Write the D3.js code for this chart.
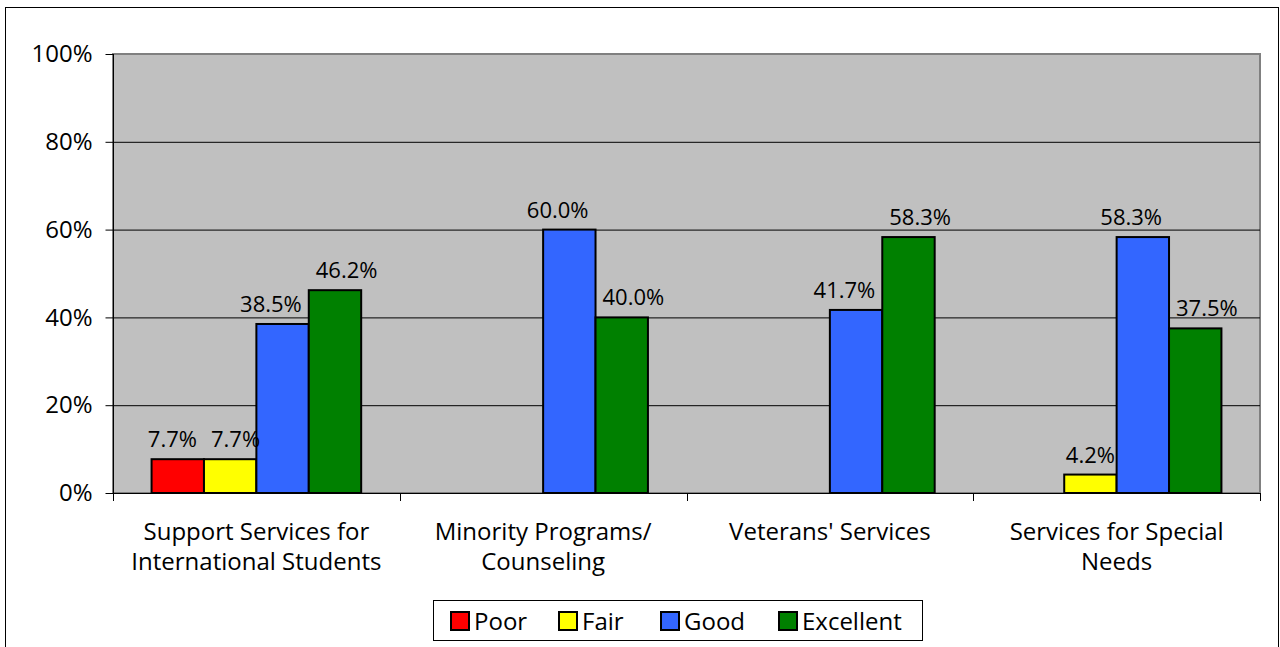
<!DOCTYPE html>
<meta charset="utf-8">
<head>
  <style>
    body { margin:0; background:#fff; }
    text { font-family: "Open Sans", "Noto Sans", sans-serif; fill:#000; }
  </style>
  <script src="https://d3js.org/d3.v7.min.js"></script>
</head>
<body>
<svg width="1280" height="647"></svg>
<script>
var categories = [
  ["Support Services for", "International Students"],
  ["Minority Programs/", "Counseling"],
  ["Veterans' Services"],
  ["Services for Special", "Needs"]
]
var seriesNames = ["Poor", "Fair", "Good", "Excellent"]
var seriesColors = ["#ff0000", "#ffff00", "#3366ff", "#008000"]
// percent per category, null = no bar
var poor      = [7.7, null, null, null]
var fair      = [7.7, null, null, 4.2]
var good      = [38.5, 60.0, 41.7, 58.3]
var excellent = [46.2, 40.0, 58.3, 37.5]
var yTicks = [0, 20, 40, 60, 80, 100]

var values = [poor, fair, good, excellent]

var svg = d3.select('svg')
var plotL = 113, plotR = 1260, plotT = 54, plotB = 493

// outer frame
svg.append('rect')
  .attr('x', 5.5).attr('y', 7.5).attr('width', 1273).attr('height', 660)
  .attr('fill', 'none').attr('stroke', '#000').attr('stroke-width', 1)

var x0 = d3.scaleBand().domain(d3.range(categories.length)).range([plotL, plotR])
var x1 = d3.scaleBand().domain(d3.range(seriesNames.length))
  .range([0, x0.bandwidth()]).paddingOuter(0.736)
var y = d3.scaleLinear().domain([0, 100]).range([plotB, plotT])

// plot area
svg.append('rect')
  .attr('x', plotL).attr('y', plotT).attr('width', plotR - plotL).attr('height', plotB - plotT)
  .attr('fill', '#c0c0c0').attr('stroke', '#808080').attr('stroke-width', 2)

// gridlines
svg.append('g').selectAll('line')
  .data(yTicks.filter(function (d) { return d > 0 && d < 100 }))
  .enter().append('line')
    .attr('x1', plotL).attr('x2', plotR)
    .attr('y1', function (d) { return y(d) + 0.5 })
    .attr('y2', function (d) { return y(d) + 0.5 })
    .attr('stroke', '#000').attr('stroke-width', 1)

// y axis
var yAxis = svg.append('g')
  .attr('transform', 'translate(' + (plotL + 0.5) + ',0)')
  .call(d3.axisLeft(y).tickValues(yTicks).tickSize(8).tickPadding(13)
    .tickFormat(function (d) { return d + '%' }))
yAxis.selectAll('text').style('font-size', '24px').attr('fill', '#000')
  .attr('font-family', '"Open Sans", sans-serif')
yAxis.selectAll('line, path').attr('stroke', '#000')
yAxis.select('path').attr('d', 'M0,' + plotT + 'V' + plotB)

// x axis line and category ticks
var xg = svg.append('g')
xg.append('line').attr('x1', plotL).attr('x2', plotR)
  .attr('y1', plotB + 0.5).attr('y2', plotB + 0.5).attr('stroke', '#000')
xg.selectAll('.tk')
  .data(d3.range(categories.length + 1))
  .enter().append('line')
    .attr('x1', function (d) { return Math.round(plotL + d * x0.step()) + 0.5 })
    .attr('x2', function (d) { return Math.round(plotL + d * x0.step()) + 0.5 })
    .attr('y1', plotB).attr('y2', plotB + 8).attr('stroke', '#000')

// category labels
var catLabels = svg.append('g').selectAll('text')
  .data(categories)
  .enter().append('text')
    .attr('x', function (d, i) { return x0(i) + x0.bandwidth() / 2 })
    .attr('y', 540)
    .attr('text-anchor', 'middle')
    .style('font-size', '24px')
catLabels.selectAll('tspan')
  .data(function (d) { return d })
  .enter().append('tspan')
    .attr('x', function () { return this.parentNode.getAttribute('x') })
    .attr('dy', function (d, i) { return i === 0 ? 0 : 30 })
    .text(function (d) { return d })

// bars
var bars = []
categories.forEach(function (c, ci) {
  values.forEach(function (s, si) {
    if (s[ci] != null) bars.push({ c: ci, s: si, v: s[ci] })
  })
})

svg.append('g').selectAll('rect')
  .data(bars)
  .enter().append('rect')
    .attr('x', function (d) { return x0(d.c) + x1(d.s) })
    .attr('y', function (d) { return y(d.v) })
    .attr('width', x1.bandwidth())
    .attr('height', function (d) { return plotB - y(d.v) })
    .attr('fill', function (d) { return seriesColors[d.s] })
    .attr('stroke', '#000').attr('stroke-width', 2)

var labels = svg.append('g').selectAll('text')
  .data(bars)
  .enter().append('text')
    .attr('y', function (d) { return y(d.v) - 12 })
    .attr('text-anchor', 'middle')
    .style('font-size', '22px')
    .text(function (d) { return d.v.toFixed(1) + '%' })

// nudge neighbouring labels apart so they don't crowd each other
labels.each(function (d) {
  d.cx = x0(d.c) + x1(d.s) + x1.bandwidth() / 2
  d.w = this.getComputedTextLength()
})
for (var k = 0; k < bars.length - 1; k++) {
  var a = bars[k], b = bars[k + 1]
  if (a.c !== b.c) continue
  if (Math.abs(y(a.v) - y(b.v)) > 100) continue
  var overlap = (a.cx + a.w / 2 + 14) - (b.cx - b.w / 2)
  if (overlap > 0) { a.cx -= overlap / 2; b.cx += overlap / 2 }
}
labels.attr('x', function (d) { return d.cx })

// legend
var legend = svg.append('g')
legend.append('rect')
  .attr('x', 433.5).attr('y', 600.5).attr('width', 489).attr('height', 40)
  .attr('fill', '#fff').attr('stroke', '#000').attr('stroke-width', 1)
var legendX = [451, 559, 661, 779]
var items = legend.selectAll('.item')
  .data(seriesNames)
  .enter().append('g')
    .attr('transform', function (d, i) { return 'translate(' + legendX[i] + ',612)' })
items.append('rect')
  .attr('width', 18).attr('height', 18)
  .attr('fill', function (d, i) { return seriesColors[i] })
  .attr('stroke', '#000').attr('stroke-width', 2)
items.append('text')
  .attr('x', 23).attr('y', 18)
  .style('font-size', '24px')
  .text(function (d) { return d })
</script>
</body>
